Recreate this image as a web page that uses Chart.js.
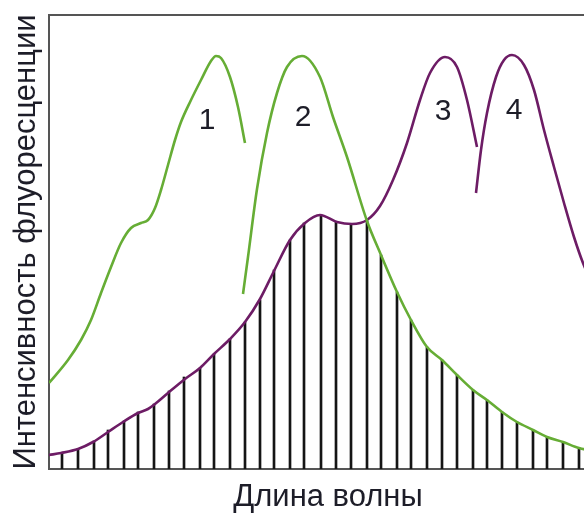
<!DOCTYPE html>
<html>
<head>
<meta charset="utf-8">
<script src="https://cdn.jsdelivr.net/npm/chart.js@4/dist/chart.umd.min.js"></script>
<style>
  html, body { margin: 0; padding: 0; background: #fff; overflow: hidden; }
  #wrap { width: 607px; height: 514px; }
</style>
</head>
<body>
<div id="wrap"><canvas id="c" width="607" height="514"></canvas></div>
<script>
// Wavelength axis in arbitrary units, intensity in arbitrary units.
const band1X = [0, 19, 32, 42, 52, 62, 72, 82, 92, 99, 106, 112, 119, 126, 132, 142, 152, 162, 167, 172, 181, 189, 196];
const band1Y = [86, 109, 129, 149, 176, 202, 226, 241, 246, 249, 261, 279, 304, 329, 347, 369, 389, 408, 413, 411, 392, 362, 326];

const band2X = [194, 199, 208, 218, 228, 238, 253, 271, 284, 298, 318, 332, 348, 362, 378, 393, 408, 424, 438, 453, 468, 484, 498, 514, 530, 551];
const band2Y = [175, 212, 280, 336, 376, 402, 413, 392, 352, 312, 248, 214, 177, 149, 122, 109, 94, 79, 69, 57, 47, 39, 32, 27, 21, 17];

const band3X = [0, 12, 29, 44, 59, 74, 89, 99, 106, 119, 136, 151, 165, 181, 196, 211, 225, 241, 256, 271, 288, 303, 318, 331, 344, 358, 371, 381, 396, 408, 418, 428];
const band3Y = [14, 16, 20, 27, 37, 47, 56, 60, 65, 76, 90, 101, 115, 130, 147, 170, 198, 229, 246, 254, 247, 245, 249, 263, 289, 326, 369, 396, 412, 402, 369, 322];

const band4X = [427, 432, 438, 447, 455, 463, 475, 485, 495, 505, 515, 525, 534, 546];
const band4Y = [276, 319, 356, 392, 409, 414, 404, 379, 339, 302, 266, 232, 206, 179];

// Overlap region hatching
const hatchX = [13, 29, 45, 59, 75, 89, 105, 120, 135, 151, 165, 181, 196, 211, 225, 241, 255, 272, 287, 302, 318, 332, 348, 362, 378, 393, 408, 424, 438, 453, 468, 484, 498, 514, 530];
const hatchY = [16, 20, 28, 39, 48, 57, 65, 78, 92, 101, 115, 130, 147, 169, 199, 229, 246, 254, 247, 245, 248, 214, 177, 149, 122, 109, 94, 79, 69, 57, 47, 39, 32, 27, 21];

const peakLabels = ['1', '2', '3', '4'];
const peakLabelX = [158, 254, 394, 465];
const peakLabelY = [348, 351, 357, 358];

const xTitle = 'Длина волны';
const yTitle = 'Интенсивность флуоресценции';

const GREEN = '#66ad35';
const PURPLE = '#6d1c65';
const AXIS = '#555555';
const TEXT = '#1d1d28';
const FONT = '"Liberation Sans", Arial, sans-serif';

const pts = (xs, ys) => xs.map((x, i) => ({ x: x, y: ys[i] }));

function curve(xs, ys, color) {
  return {
    type: 'line',
    data: pts(xs, ys),
    borderColor: color,
    borderWidth: 2.6,
    pointRadius: 0,
    cubicInterpolationMode: 'monotone',
    fill: false,
    order: 0
  };
}

const peakLabelPlugin = {
  id: 'peakLabels',
  afterDatasetsDraw(chart) {
    const ctx = chart.ctx;
    const xs = chart.scales.x, ys = chart.scales.y;
    ctx.save();
    ctx.fillStyle = TEXT;
    ctx.font = '30px ' + FONT;
    ctx.textAlign = 'center';
    ctx.textBaseline = 'middle';
    peakLabels.forEach((t, i) => {
      ctx.fillText(t, xs.getPixelForValue(peakLabelX[i]), ys.getPixelForValue(peakLabelY[i]));
    });
    ctx.restore();
  }
};

const hiddenGrid = { display: false, drawTicks: false };

new Chart(document.getElementById('c'), {
  type: 'line',
  data: {
    datasets: [
      {
        type: 'bar',
        data: pts(hatchX, hatchY),
        backgroundColor: '#151515',
        borderWidth: 0,
        barThickness: 2,
        order: 10
      },
      curve(band1X, band1Y, GREEN),
      curve(band2X, band2Y, GREEN),
      curve(band3X, band3Y, PURPLE),
      curve(band4X, band4Y, PURPLE)
    ]
  },
  options: {
    responsive: false,
    animation: false,
    layout: { padding: { left: 7, right: 0, top: 15, bottom: 0 } },
    plugins: { legend: { display: false }, tooltip: { enabled: false } },
    scales: {
      x: {
        type: 'linear',
        min: 0,
        max: 558,
        offset: false,
        grid: hiddenGrid,
        ticks: { display: false },
        border: { display: true, color: AXIS, width: 2 },
        title: {
          display: true,
          text: xTitle,
          color: TEXT,
          font: { family: FONT, size: 31, lineHeight: 1 },
          padding: { top: 13, bottom: 1 }
        }
      },
      xTop: {
        type: 'linear',
        position: 'top',
        min: 0,
        max: 558,
        grid: hiddenGrid,
        ticks: { display: false },
        border: { display: true, color: AXIS, width: 2 }
      },
      y: {
        type: 'linear',
        min: 0,
        max: 454,
        grid: hiddenGrid,
        ticks: { display: false },
        border: { display: true, color: AXIS, width: 2 },
        title: {
          display: true,
          text: yTitle,
          color: TEXT,
          font: { family: FONT, size: 31, lineHeight: 1 },
          padding: { top: 4, bottom: 7 }
        }
      }
    }
  },
  plugins: [peakLabelPlugin]
});
</script>
</body>
</html>
